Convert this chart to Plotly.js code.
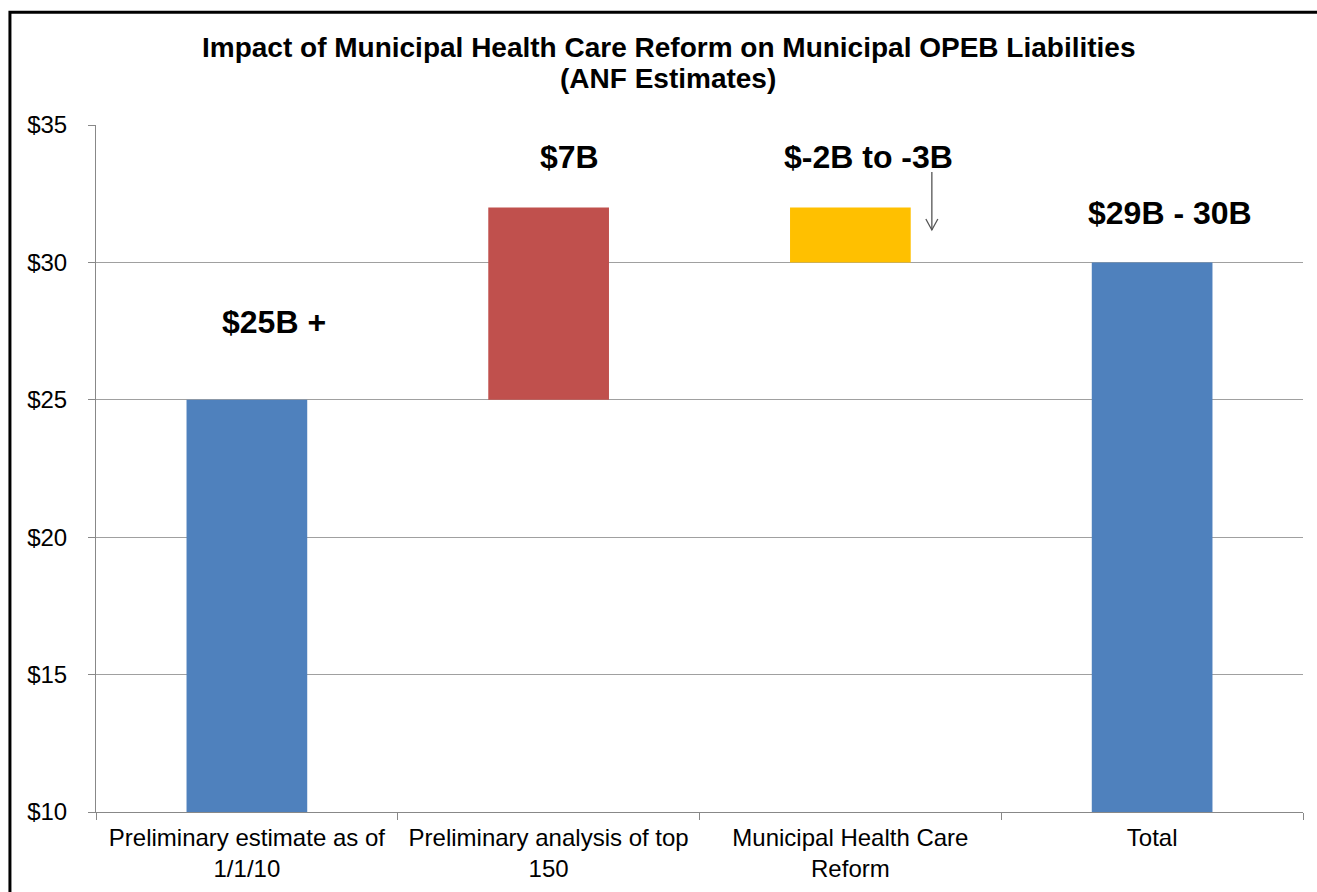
<!DOCTYPE html>
<html>
<head>
<meta charset="utf-8">
<script src="https://cdn.plot.ly/plotly-3.0.1.min.js"></script>
<style>
html,body{margin:0;padding:0;background:#fff;}
#chart{width:1317px;height:892px;}
</style>
</head>
<body>
<div id="chart"></div>
<script>
var titleLines = ["Impact of Municipal Health Care Reform on Municipal OPEB Liabilities", "(ANF Estimates)"];
var categories = ["Preliminary estimate as of<br>1/1/10", "Preliminary analysis of top<br>150", "Municipal Health Care<br>Reform", "Total"];
var barBases = [0, 25, 30, 0];
var barTops = [25, 32, 32, 30];
var barColors = ["#4F81BD", "#C0504D", "#FFC000", "#4F81BD"];
var labelTexts = ["$25B +", "$7B", "$-2B to -3B", "$29B - 30B"];
var labelX = [0.09, 1.07, 2.06, 3.06];
var labelY = [27.83, 33.84, 33.84, 31.8];
var arrowX = 2.27, arrowFrom = 33.29, arrowTo = 31.18;
var yTickVals = [10, 15, 20, 25, 30, 35];
var yTickText = ["$10", "$15", "$20", "$25", "$30", "$35"];

var heights = barTops.map(function(t, i){ return t - barBases[i]; });

var trace = {
  type: "bar",
  x: categories,
  y: heights,
  base: barBases,
  marker: {color: barColors},
  width: 0.4,
  hoverinfo: "none"
};

var annotations = labelTexts.map(function(t, i){
  return {
    x: labelX[i], y: labelY[i], xref: "x", yref: "y",
    text: "<b>" + t + "</b>", showarrow: false,
    font: {family: "Liberation Sans, Arial, sans-serif", size: 32, color: "#000"}
  };
});
var titleY = [1.1135, 1.0684];
titleLines.forEach(function(t, i){
  annotations.push({
    x: 0.474, y: titleY[i], xref: "paper", yref: "paper",
    xanchor: "center", yanchor: "middle",
    text: "<b>" + t + "</b>", showarrow: false,
    font: {family: "Liberation Sans, Arial, sans-serif", size: 28, color: "#000"}
  });
});

var layout = {
  width: 1317, height: 892,
  margin: {l: 96, r: 14, t: 125, b: 80},
  paper_bgcolor: "#fff", plot_bgcolor: "#fff",
  font: {family: "Liberation Sans, Arial, sans-serif", color: "#000"},
  showlegend: false,
  bargap: 0.6,
  xaxis: {
    type: "category",
    showline: true, linecolor: "#888", linewidth: 1,
    ticks: "outside", tickson: "boundaries", ticklen: 7, tickcolor: "#888",
    ticklabelstandoff: 4,
    tickfont: {size: 24, color: "#000"},
    showgrid: false, fixedrange: true
  },
  yaxis: {
    range: [10, 35],
    tickvals: yTickVals, ticktext: yTickText,
    showline: true, linecolor: "#888", linewidth: 1,
    ticks: "outside", ticklen: 7, tickcolor: "#888",
    ticklabelstandoff: 16,
    tickfont: {size: 24, color: "#000"},
    showgrid: true, gridcolor: "#a0a0a0", gridwidth: 1,
    zeroline: false, fixedrange: true
  },
  annotations: annotations,
  shapes: [
    {
      type: "rect", xref: "paper", yref: "paper",
      x0: -0.0713, x1: 1.05, y0: -0.2, y1: 1.164,
      line: {color: "#000", width: 3}, fillcolor: "rgba(0,0,0,0)", layer: "above"
    },
    {
      type: "line", xref: "x", yref: "y",
      x0: arrowX, x1: arrowX, y0: arrowFrom, y1: arrowTo,
      line: {color: "#555", width: 1.3}
    },
    {
      type: "path", xref: "x", yref: "y",
      xsizemode: "pixel", ysizemode: "pixel", xanchor: arrowX, yanchor: arrowTo,
      path: "M-6,11 L0,0 L6,11",
      line: {color: "#555", width: 1.3}, fillcolor: "rgba(0,0,0,0)"
    }
  ]
};

Plotly.newPlot("chart", [trace], layout, {displayModeBar: false, staticPlot: true});
</script>
</body>
</html>
